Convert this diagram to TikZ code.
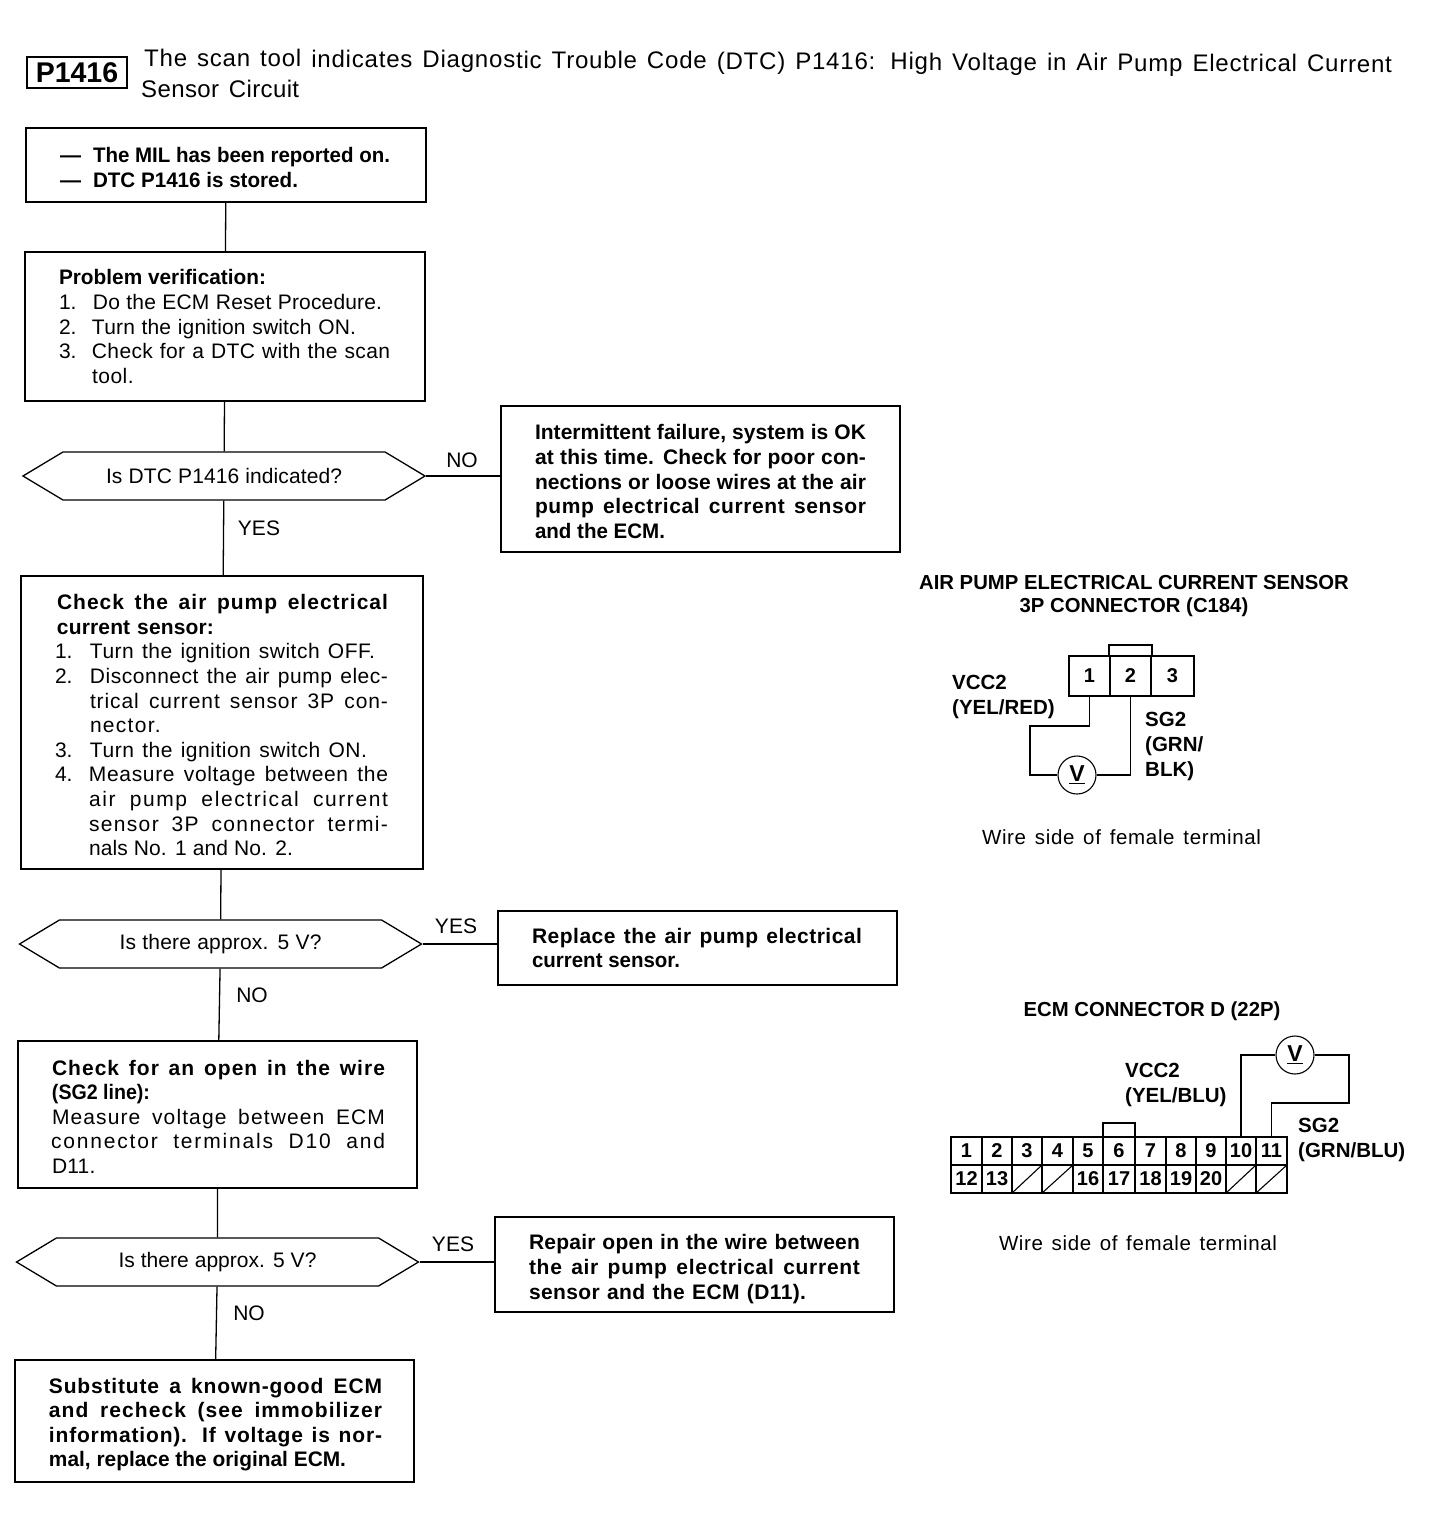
\documentclass[tikz,border=0pt]{standalone}
\usepackage{fontspec}
\usepackage{graphicx}
\setmainfont{Liberation Sans}
\usetikzlibrary{shapes.symbols}
\ExplSyntaxOn
\cs_new:Npn \charcountof #1 { \str_count:n { #1 } }
\ExplSyntaxOff
\newdimen\oneem
\newcommand{\fitbox}[2]{\begingroup\spaceskip=0pt\xspaceskip=0pt\oneem=1em
  \setbox0=\hbox{#2}%
  \ifdim\wd0>#1pt\relax
    \resizebox{#1pt}{\height}{\box0}%
  \else
    \pgfmathsetmacro{\lspace}{0.75*(#1-\wd0/1pt)/\charcountof{#2}/(\oneem/1pt)*100}%
    \addfontfeature{LetterSpace=\lspace}\makebox[#1pt][s]{\spaceskip=0pt\xspaceskip=0pt #2}%
  \fi\endgroup}
\newcommand{\tline}[3]{\hspace*{#1pt}\fitbox{#2}{#3}}
\newcommand{\numline}[5]{\hspace*{#1pt}\makebox[0pt][l]{#2}\hspace*{#3pt}\fitbox{#4}{#5}}
\newcommand{\topgap}[1]{\rule{0pt}{\dimexpr15.5pt+#1pt\relax}}
\tikzset{
  x=1pt,y=-1pt,
  bodyfont/.style={font=\fontsize{21}{24.6}\selectfont},
  flowbox/.style={draw,line width=1.5pt,inner sep=0pt,align=left,bodyfont},
  decision/.style={draw,line width=1.3pt,shape=signal,signal to=west and east,signal pointer angle=62,
     minimum width=402pt,minimum height=48pt,inner sep=0pt,bodyfont,align=center},
  link/.style={line width=1.3pt},
  answer/.style={bodyfont,inner sep=0pt},
  heading/.style={font=\fontsize{20.3}{23}\selectfont\bfseries,inner sep=0pt,align=center},
  wirelabel/.style={font=\fontsize{20.5}{25}\selectfont\bfseries,inner sep=0pt,align=left,anchor=west},
  caption/.style={font=\fontsize{20.5}{24}\selectfont,inner sep=0pt},
  meter/.style={draw,circle,line width=1.1pt,minimum size=38pt,inner sep=0pt,font=\fontsize{23}{23}\selectfont\bfseries},
  pincell/.style={draw,line width=1.2pt,inner sep=0pt,font=\fontsize{20}{20}\selectfont\bfseries},
  wire/.style={line width=1.3pt},
  outline/.style={line width=2pt},
}
\begin{document}
\begin{tikzpicture}
\useasboundingbox (0,0) rectangle (1456,1540);
\fill[white] (0,0) rectangle (1456,1540);

% header
\node[draw,line width=1.5pt,minimum width=100pt,minimum height=31pt,inner sep=0pt,font=\fontsize{28.5}{29}\selectfont\bfseries] (code) at (77,72.5) {P1416};
\node[anchor=west,inner sep=0pt,rotate=-0.28,font=\fontsize{24}{24}\selectfont] (title1) at (144,60) {\fitbox{1248}{The scan tool indicates Diagnostic Trouble Code (DTC) P1416: High Voltage in Air Pump Electrical Current}};
\node[anchor=west,inner sep=0pt,font=\fontsize{24}{24}\selectfont] (title2) at (141,89) {\fitbox{158}{Sensor Circuit}};

% left column
\node[flowbox,minimum width=400pt,minimum height=74pt,text width=400pt] (start) at (226,165) {\bfseries\topgap{5}%
\numline{34}{—}{33}{297}{The MIL has been reported on.}\\
\numline{34}{—}{33}{205}{DTC P1416 is stored.}};

\node[flowbox,minimum width=400pt,minimum height=149pt,text width=400pt] (verify) at (225,326.5) {\bfseries
\tline{34}{207}{Problem verification:}\\\mdseries
\numline{34}{1.}{34}{289}{Do the ECM Reset Procedure.}\\
\numline{34}{2.}{33}{264}{Turn the ignition switch ON.}\\
\numline{34}{3.}{33}{298}{Check for a DTC with the scan}\\
\tline{67}{43}{tool.}};

\node[decision] (q1) at (224,476) {\raisebox{-1pt}{\fitbox{236}{Is DTC P1416 indicated?}}};

\node[flowbox,minimum width=402pt,minimum height=293pt,text width=402pt] (sensor) at (222,722.5) {\bfseries\topgap{5}%
\tline{36}{331}{Check the air pump electrical}\\
\tline{36}{157}{current sensor:}\\\mdseries
\numline{34}{1.}{35}{285}{Turn the ignition switch OFF.}\\
\numline{34}{2.}{35}{298}{Disconnect the air pump elec-}\\
\tline{69}{298}{trical current sensor 3P con-}\\
\tline{69}{75}{nector.}\\
\numline{34}{3.}{35}{277}{Turn the ignition switch ON.}\\
\numline{34}{4.}{34}{299}{Measure voltage between the}\\
\tline{68}{299}{air pump electrical current}\\
\tline{68}{299}{sensor 3P connector termi-}\\
\tline{68}{204}{nals No. 1 and No. 2.}};

\node[decision] (q2) at (220.5,944) {\raisebox{-2pt}{\fitbox{202}{Is there approx. 5 V?}}};

\node[flowbox,minimum width=399pt,minimum height=147pt,text width=399pt] (open) at (217.5,1114.5) {\bfseries\topgap{4}%
\tline{34}{333}{Check for an open in the wire}\\
\tline{34}{98}{(SG2 line):}\\\mdseries
\tline{34}{333}{Measure voltage between ECM}\\
\tline{33}{334}{connector terminals D10 and}\\
\tline{34}{44}{D11.}};

\node[decision] (q3) at (217.5,1262) {\raisebox{-2pt}{\fitbox{198}{Is there approx. 5 V?}}};

\node[flowbox,minimum width=399pt,minimum height=122pt,text width=399pt] (ecm) at (214.5,1421) {\bfseries\topgap{7}%
\tline{34}{333}{Substitute a known-good ECM}\\
\tline{34}{333}{and recheck (see immobilizer}\\
\tline{34}{333}{information). If voltage is nor-}\\
\tline{34}{297}{mal, replace the original ECM.}};

% right column boxes
\node[flowbox,minimum width=399pt,minimum height=146pt,text width=399pt] (ok) at (700.5,479) {\bfseries\topgap{5}%
\tline{34}{331}{Intermittent failure, system is OK}\\
\tline{34}{331}{at this time. Check for poor con-}\\
\tline{34}{331}{nections or loose wires at the air}\\
\tline{34}{331}{pump electrical current sensor}\\
\tline{34}{130}{and the ECM.}};

\node[flowbox,minimum width=399pt,minimum height=74pt,text width=399pt] (replace) at (697.5,948) {\bfseries
\tline{34}{330}{Replace the air pump electrical}\\
\tline{34}{148}{current sensor.}};

\node[flowbox,minimum width=399pt,minimum height=95pt,text width=399pt] (repair) at (694.5,1264.5) {\bfseries\topgap{9}%
\tline{34}{331}{Repair open in the wire between}\\
\tline{34}{331}{the air pump electrical current}\\
\tline{34}{277}{sensor and the ECM (D11).}};

% connectors
\draw[link] (start) -- (verify);
\draw[link] (verify) -- (q1);
\draw[link] (q1) -- (sensor);
\draw[link] (sensor) -- (q2);
\draw[link] (q2) -- (open);
\draw[link] (open) -- (q3);
\draw[link] (q3) -- (ecm);
\draw[link] (q1.east) -- (ok.west |- q1.east);
\draw[link] (q2.east) -- (replace.west |- q2.east);
\draw[link] (q3.east) -- (repair.west |- q3.east);

\node[answer] (no1) at (462,460) {NO};
\node[answer] (yes1) at (259,528) {YES};
\node[answer] (yes2) at (456,926) {YES};
\node[answer] (no2) at (252,995) {NO};
\node[answer] (yes3) at (453,1244) {YES};
\node[answer] (no3) at (249,1313) {NO};

% 3P connector
\node[heading] (h3p) at (1134,596.5) {AIR PUMP ELECTRICAL CURRENT SENSOR\\3P CONNECTOR (C184)};
\draw[outline] (1109,656) -- (1109,645) -- (1152,645) -- (1152,656);
\node[pincell,minimum width=41pt,minimum height=40pt] (c1) at (1089.5,676) {1};
\node[pincell,minimum width=41pt,minimum height=40pt] (c2) at (1130.5,676) {2};
\node[pincell,minimum width=43pt,minimum height=40pt] (c3) at (1172.5,676) {3};
\draw[outline,line width=2.6pt] (1069,656) rectangle (1194,696);
\node[meter] (v1) at (1077,775) {\underline{V}};
\coordinate (turn3p) at (1030,726);
\draw[wire] (c1.south) |- (turn3p) |- (v1.west);
\draw[wire] (c2.south) |- (v1.east);
\node[wirelabel] (vcc1) at (952,696.5) {VCC2\\(YEL/RED)};
\node[wirelabel] (sg1) at (1145,746) {SG2\\(GRN/\\BLK)};
\node[caption] (cap1) at (1121.5,837) {\fitbox{279}{Wire side of female terminal}};

% ECM connector
\node[heading] (hecm) at (1152,1011) {ECM CONNECTOR D (22P)};
\draw[outline] (1103,1137) -- (1103,1123) -- (1135,1123) -- (1135,1137);
\foreach \cellw/\cellx/\upper/\lower in {
  31/966.5/1/12, 30/997/2/13, 30/1027/3/{},
  31/1057.5/4/{}, 30/1088/5/16, 32/1119/6/17,
  31/1150.5/7/18, 30/1181/8/19, 30/1211/9/20,
  30/1241/10/{}, 31/1271.5/11/{}}
{
  \node[pincell,minimum width=\cellw pt,minimum height=28pt] (eu\upper) at (\cellx,1151) {\upper};
  \node[pincell,minimum width=\cellw pt,minimum height=28pt] (el\upper) at (\cellx,1179) {\lower};
}
\foreach \n in {3,4,10,11} \draw[line width=1.1pt] (el\n.south west) -- (el\n.north east);
\draw[outline] (951,1137) rectangle (1287,1193);
\node[meter] (v2) at (1295,1055) {\underline{V}};
\coordinate (turnecm) at (1349,1103);
\draw[wire] (eu10.north) |- (v2.west);
\draw[wire] (eu11.north) |- (turnecm) |- (v2.east);
\node[wirelabel] (vcc2) at (1125,1084.5) {VCC2\\(YEL/BLU)};
\node[wirelabel] (sg2) at (1298,1139.5) {SG2\\(GRN/BLU)};
\node[caption] (cap2) at (1138,1243) {\fitbox{278}{Wire side of female terminal}};
\end{tikzpicture}
\end{document}
